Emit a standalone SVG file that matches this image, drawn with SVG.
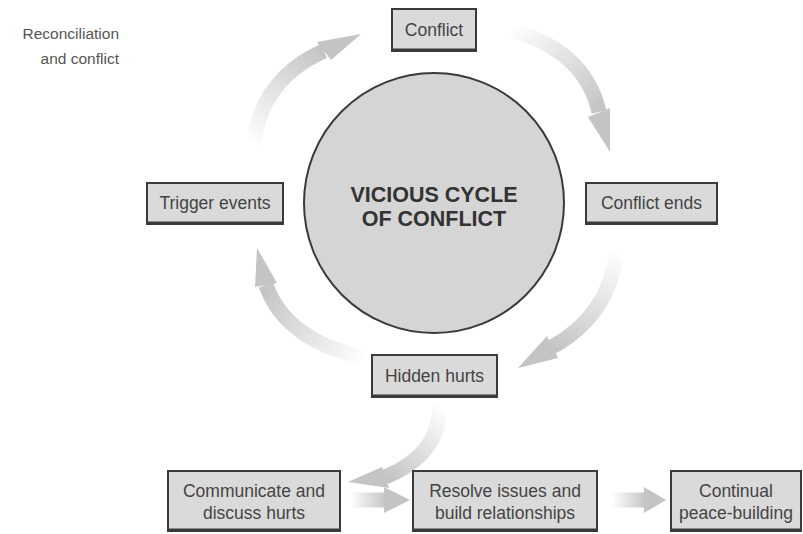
<svg xmlns="http://www.w3.org/2000/svg" width="803" height="534" viewBox="0 0 803 534">
<defs>
<style>
.box{fill:#dadada;stroke:#3a3a3a;stroke-width:2}
.sh{stroke:#3a3a3a;stroke-width:3}
.t{font-family:"Liberation Sans",Arial,sans-serif;font-size:17.5px;fill:#444;text-anchor:middle}
.big{font-family:"Liberation Sans",Arial,sans-serif;font-size:21.5px;font-weight:bold;fill:#333;text-anchor:middle}
.cap{font-family:"Liberation Sans",Arial,sans-serif;font-size:15.5px;fill:#555;text-anchor:end}
.body{fill:none;stroke-width:15}
.head{fill:#c4c4c4}
</style>
<linearGradient id="g1" gradientUnits="userSpaceOnUse" x1="253" y1="145" x2="324" y2="51"><stop offset="0" stop-color="#fff"/><stop offset="1" stop-color="#c4c4c4"/></linearGradient>
<linearGradient id="g2" gradientUnits="userSpaceOnUse" x1="510" y1="30" x2="599" y2="112"><stop offset="0" stop-color="#fff"/><stop offset="1" stop-color="#c4c4c4"/></linearGradient>
<linearGradient id="g3" gradientUnits="userSpaceOnUse" x1="617" y1="250" x2="552" y2="347"><stop offset="0" stop-color="#fff"/><stop offset="1" stop-color="#c4c4c4"/></linearGradient>
<linearGradient id="g4" gradientUnits="userSpaceOnUse" x1="365" y1="358" x2="266" y2="285"><stop offset="0" stop-color="#fff"/><stop offset="1" stop-color="#c4c4c4"/></linearGradient>
<linearGradient id="g5" gradientUnits="userSpaceOnUse" x1="440" y1="405" x2="385" y2="477"><stop offset="0" stop-color="#fff"/><stop offset="1" stop-color="#c4c4c4"/></linearGradient>
<linearGradient id="g6" gradientUnits="userSpaceOnUse" x1="350" y1="0" x2="386" y2="0"><stop offset="0" stop-color="#fff"/><stop offset="1" stop-color="#c4c4c4"/></linearGradient>
<linearGradient id="g7" gradientUnits="userSpaceOnUse" x1="612" y1="0" x2="646" y2="0"><stop offset="0" stop-color="#fff"/><stop offset="1" stop-color="#c4c4c4"/></linearGradient>
</defs>
<rect width="803" height="534" fill="#fff"/>
<text class="cap" x="119" y="39">Reconciliation</text>
<text class="cap" x="119" y="64">and conflict</text>
<g id="connectors">
<path class="body" stroke="url(#g1)" d="M253 145 Q262 78 324 51"/>
<polygon class="head" points="317,42 331,60 361,34"/>
<path class="body" stroke="url(#g2)" d="M510 30 Q585 50 599 112"/>
<polygon class="head" points="588,117 610,108 610,152"/>
<path class="body" stroke="url(#g3)" d="M617 250 Q610 315 552 347"/>
<polygon class="head" points="547,336 558,358 518,368"/>
<path class="body" stroke="url(#g4)" d="M365 358 Q285 340 266 285"/>
<polygon class="head" points="255,287 277,283 257,248"/>
<path class="body" stroke="url(#g5)" d="M440 405 Q440 455 385 477"/>
<polygon class="head" points="382,467 389,488 348,482"/>
<path class="body" stroke="url(#g6)" d="M350 500 H386"/>
<polygon class="head" points="384,487 384,513 410,500"/>
<path class="body" stroke="url(#g7)" d="M612 500 H646"/>
<polygon class="head" points="644,487 644,513 666,500"/>
</g>
<g id="center">
<circle cx="434" cy="203" r="130" fill="#d5d5d5" stroke="#3a3a3a" stroke-width="2"/>
<text class="big" x="434" y="202">VICIOUS CYCLE</text>
<text class="big" x="434" y="226">OF CONFLICT</text>
</g>
<g id="conflict">
<rect class="box" x="392" y="9" width="84" height="42"/><line class="sh" x1="392" y1="50" x2="476" y2="50"/>
<text class="t" x="434" y="36">Conflict</text>
</g>
<g id="trigger">
<rect class="box" x="147" y="183" width="136" height="41"/><line class="sh" x1="147" y1="223" x2="283" y2="223"/>
<text class="t" x="215" y="209">Trigger events</text>
</g>
<g id="ends">
<rect class="box" x="586" y="183" width="131" height="41"/><line class="sh" x1="586" y1="223" x2="717" y2="223"/>
<text class="t" x="651.500" y="209">Conflict ends</text>
</g>
<g id="hidden">
<rect class="box" x="372" y="355" width="125" height="42"/><line class="sh" x1="372" y1="396" x2="497" y2="396"/>
<text class="t" x="434.500" y="382">Hidden hurts</text>
</g>
<g id="communicate">
<rect class="box" x="168" y="471" width="172" height="60"/><line class="sh" x1="168" y1="530" x2="340" y2="530"/>
<text class="t" x="254" y="497">Communicate and</text>
<text class="t" x="254" y="519">discuss hurts</text>
</g>
<g id="resolve">
<rect class="box" x="413" y="471" width="184" height="60"/><line class="sh" x1="413" y1="530" x2="597" y2="530"/>
<text class="t" x="505" y="497">Resolve issues and</text>
<text class="t" x="505" y="519">build relationships</text>
</g>
<g id="continual">
<rect class="box" x="671" y="471" width="130" height="60"/><line class="sh" x1="671" y1="530" x2="801" y2="530"/>
<text class="t" x="736" y="497">Continual</text>
<text class="t" x="736" y="519">peace-building</text>
</g>
</svg>
